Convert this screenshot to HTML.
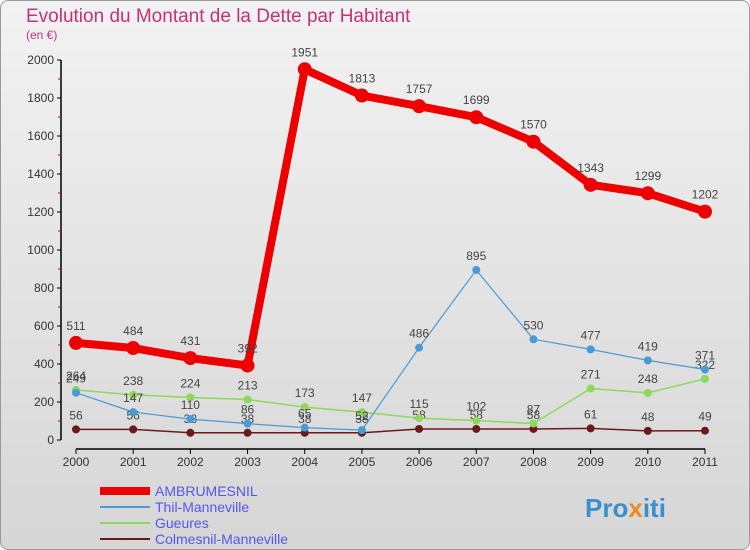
<!DOCTYPE html>
<html><head><meta charset="utf-8"><style>
body{margin:0;width:750px;height:550px;overflow:hidden;font-family:"Liberation Sans",sans-serif}
#wrap{position:absolute;left:0;top:0;width:748px;height:548px;border:1px solid #999;border-radius:8px;background:linear-gradient(#f2f2f2,#d6d6d6)}
</style></head><body>
<div id="wrap"></div>
<svg id="c" width="750" height="550" style="position:absolute;left:0;top:0" font-family="Liberation Sans, sans-serif">
<text x="26" y="22" font-size="19" fill="#c8336e">Evolution du Montant de la Dette par Habitant</text>
<text x="26" y="39" font-size="12" fill="#c8336e">(en €)</text>
<text x="585" y="517" font-size="26" font-weight="bold" fill="#3a8fd0">Pro<tspan fill="#f08a1c">x</tspan>iti</text>
</svg>
<script>
const years=[2000,2001,2002,2003,2004,2005,2006,2007,2008,2009,2010,2011];
const yTicks=[0,200,400,600,800,1000,1200,1400,1600,1800,2000];
const ambrumesnil=[511,484,431,392,1951,1813,1757,1699,1570,1343,1299,1202];
const thil=[249,147,110,86,65,52,486,895,530,477,419,371];
const gueures=[264,238,224,213,173,147,115,102,87,271,248,322];
const colmesnil=[56,56,38,38,38,38,58,58,58,61,48,49];
const names=["AMBRUMESNIL","Thil-Manneville","Gueures","Colmesnil-Manneville"];
const NS="http://www.w3.org/2000/svg",svg=document.getElementById('c');
const X=i=>76+i*(705-76)/11, Y=v=>440-v*0.19;
function mk(t,a,p){const e=document.createElementNS(NS,t);for(const k in a)e.setAttribute(k,a[k]);(p||svg).appendChild(e);return e;}
let ax=mk('line',{x1:61,y1:60,x2:61,y2:440,stroke:'#000','stroke-width':1.5});


yTicks.forEach(v=>{mk('line',{x1:57,x2:61,y1:Y(v),y2:Y(v),stroke:'#000'});
 if(v<2000)mk('line',{x1:58,x2:61,y1:Y(v+100),y2:Y(v+100),stroke:'#d00'});
 const t=mk('text',{x:54,y:Y(v)+4,'font-size':12,'text-anchor':'end',fill:'#333'});t.textContent=v;
 
 });
let xa=mk('line',{x1:76,y1:449,x2:705,y2:449,stroke:'#000','stroke-width':1.5});


years.forEach((y,i)=>{mk('line',{x1:X(i),x2:X(i),y1:449,y2:454,stroke:'#000'});
 const t=mk('text',{x:X(i),y:466,'font-size':12,'text-anchor':'middle',fill:'#333'});t.textContent=y;
 
 });
const series=[[colmesnil,'#6b1a1a',1.5,4],[gueures,'#8ed85a',1.5,4],[thil,'#4a9ad6',1.2,4],[ambrumesnil,'#ee0000',8,7]];
const snames=['colmesnil','gueures','thil','ambrumesnil'];
series.forEach(([d,c,w,r],s)=>{
 const g=mk('g',{});
 
 
 mk('polyline',{points:d.map((v,i)=>X(i)+','+Y(v)).join(' '),fill:'none',stroke:c,'stroke-width':w,'stroke-linejoin':'round'},g);
 d.forEach((v,i)=>{const p=mk('circle',{cx:X(i),cy:Y(v),r:r,fill:c},g);
  
  
  const t=mk('text',{x:X(i),y:Y(v)-(r+6),'font-size':12,'text-anchor':'middle',fill:'#444'},g);t.textContent=v;});
});
const lc=['#ee0000','#4a9ad6','#8ed85a','#6b1a1a'],lw=[8,2,2,2];
names.forEach((n,i)=>{const y=491+i*16;
 const g=mk('g',{});
 
 
 mk('line',{x1:100,x2:150,y1:y,y2:y,stroke:lc[i],'stroke-width':lw[i]},g);
 const t=mk('text',{x:155,y:y+5,'font-size':14,fill:'#5555ee'},g);t.textContent=n;});
</script>
</body></html>
